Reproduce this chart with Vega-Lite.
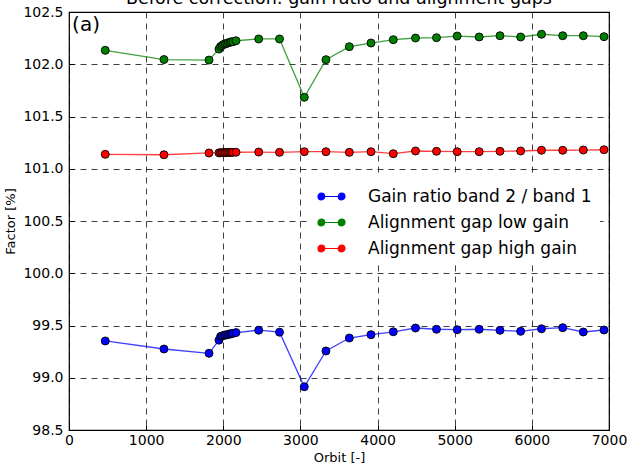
{
  "$schema": "https://vega.github.io/schema/vega-lite/v6.json",
  "width": 540,
  "height": 418,
  "autosize": {"type": "none"},
  "padding": {"left": 69, "top": 12, "right": 21, "bottom": 36},
  "background": "white",
  "title": {"text": "Before correction: gain ratio and alignment gaps", "fontSize": 17.5, "font": "DejaVu Sans", "fontWeight": "normal", "offset": -2, "anchor": "middle", "color": "#000"},
  "config": {
    "font": "DejaVu Sans",
    "view": {"stroke": "#000", "strokeWidth": 1.2},
    "axis": {
      "domain": false,
      "grid": true,
      "gridColor": "#000",
      "gridOpacity": 0.75,
      "gridDash": [6, 5],
      "gridWidth": 1,
      "tickColor": "#000",
      "tickSize": -5,
      "labelColor": "#000",
      "labelFontSize": 14,
      "titleColor": "#000",
      "titleFontSize": 13,
      "titleFontWeight": "normal",
      "labelFont": "DejaVu Sans",
      "titleFont": "DejaVu Sans"
    }
  },
  "data": {"values": [
    {"orbit": 470, "Gain ratio band 2 / band 1": 99.352, "Alignment gap low gain": 102.133, "Alignment gap high gain": 101.138},
    {"orbit": 1231, "Gain ratio band 2 / band 1": 99.275, "Alignment gap low gain": 102.045, "Alignment gap high gain": 101.134},
    {"orbit": 1815, "Gain ratio band 2 / band 1": 99.234, "Alignment gap low gain": 102.04, "Alignment gap high gain": 101.151},
    {"orbit": 1944, "Gain ratio band 2 / band 1": 99.36, "Alignment gap low gain": 102.145, "Alignment gap high gain": 101.152},
    {"orbit": 1965, "Gain ratio band 2 / band 1": 99.395, "Alignment gap low gain": 102.17, "Alignment gap high gain": 101.153},
    {"orbit": 1985, "Gain ratio band 2 / band 1": 99.4, "Alignment gap low gain": 102.18, "Alignment gap high gain": 101.154},
    {"orbit": 2005, "Gain ratio band 2 / band 1": 99.405, "Alignment gap low gain": 102.19, "Alignment gap high gain": 101.154},
    {"orbit": 2025, "Gain ratio band 2 / band 1": 99.41, "Alignment gap low gain": 102.195, "Alignment gap high gain": 101.155},
    {"orbit": 2045, "Gain ratio band 2 / band 1": 99.41, "Alignment gap low gain": 102.2, "Alignment gap high gain": 101.155},
    {"orbit": 2065, "Gain ratio band 2 / band 1": 99.415, "Alignment gap low gain": 102.205, "Alignment gap high gain": 101.156},
    {"orbit": 2085, "Gain ratio band 2 / band 1": 99.42, "Alignment gap low gain": 102.21, "Alignment gap high gain": 101.156},
    {"orbit": 2105, "Gain ratio band 2 / band 1": 99.42, "Alignment gap low gain": 102.215, "Alignment gap high gain": 101.157},
    {"orbit": 2125, "Gain ratio band 2 / band 1": 99.425, "Alignment gap low gain": 102.215, "Alignment gap high gain": 101.157},
    {"orbit": 2165, "Gain ratio band 2 / band 1": 99.432, "Alignment gap low gain": 102.225, "Alignment gap high gain": 101.158},
    {"orbit": 2459, "Gain ratio band 2 / band 1": 99.455, "Alignment gap low gain": 102.242, "Alignment gap high gain": 101.16},
    {"orbit": 2729, "Gain ratio band 2 / band 1": 99.436, "Alignment gap low gain": 102.242, "Alignment gap high gain": 101.157},
    {"orbit": 3050, "Gain ratio band 2 / band 1": 98.914, "Alignment gap low gain": 101.684, "Alignment gap high gain": 101.163},
    {"orbit": 3331, "Gain ratio band 2 / band 1": 99.256, "Alignment gap low gain": 102.044, "Alignment gap high gain": 101.163},
    {"orbit": 3634, "Gain ratio band 2 / band 1": 99.38, "Alignment gap low gain": 102.168, "Alignment gap high gain": 101.157},
    {"orbit": 3915, "Gain ratio band 2 / band 1": 99.412, "Alignment gap low gain": 102.203, "Alignment gap high gain": 101.163},
    {"orbit": 4204, "Gain ratio band 2 / band 1": 99.44, "Alignment gap low gain": 102.235, "Alignment gap high gain": 101.144},
    {"orbit": 4492, "Gain ratio band 2 / band 1": 99.476, "Alignment gap low gain": 102.251, "Alignment gap high gain": 101.17},
    {"orbit": 4764, "Gain ratio band 2 / band 1": 99.464, "Alignment gap low gain": 102.254, "Alignment gap high gain": 101.167},
    {"orbit": 5032, "Gain ratio band 2 / band 1": 99.46, "Alignment gap low gain": 102.27, "Alignment gap high gain": 101.163},
    {"orbit": 5317, "Gain ratio band 2 / band 1": 99.464, "Alignment gap low gain": 102.261, "Alignment gap high gain": 101.163},
    {"orbit": 5587, "Gain ratio band 2 / band 1": 99.454, "Alignment gap low gain": 102.273, "Alignment gap high gain": 101.167},
    {"orbit": 5855, "Gain ratio band 2 / band 1": 99.444, "Alignment gap low gain": 102.261, "Alignment gap high gain": 101.17},
    {"orbit": 6125, "Gain ratio band 2 / band 1": 99.469, "Alignment gap low gain": 102.287, "Alignment gap high gain": 101.177},
    {"orbit": 6400, "Gain ratio band 2 / band 1": 99.479, "Alignment gap low gain": 102.273, "Alignment gap high gain": 101.177},
    {"orbit": 6667, "Gain ratio band 2 / band 1": 99.438, "Alignment gap low gain": 102.273, "Alignment gap high gain": 101.179},
    {"orbit": 6935, "Gain ratio band 2 / band 1": 99.457, "Alignment gap low gain": 102.264, "Alignment gap high gain": 101.182}
  ]},
  "layer": [
    {
      "transform": [{"fold": ["Gain ratio band 2 / band 1", "Alignment gap low gain", "Alignment gap high gain"], "as": ["series", "factor"]}],
      "mark": {"type": "line", "strokeWidth": 1.3, "opacity": 0.75},
      "encoding": {
        "x": {"field": "orbit", "type": "quantitative", "scale": {"domain": [0, 7000], "nice": false, "zero": false}, "axis": {"values": [0, 1000, 2000, 3000, 4000, 5000, 6000, 7000], "format": "d", "title": "Orbit [-]", "labelPadding": 8, "titlePadding": 4, "labelFlush": false}},
        "y": {"field": "factor", "type": "quantitative", "scale": {"domain": [98.5, 102.5], "nice": false, "zero": false}, "axis": {"values": [98.5, 99, 99.5, 100, 100.5, 101, 101.5, 102, 102.5], "format": ".1f", "title": "Factor [%]", "labelPadding": 11, "titlePadding": 5, "labelFlush": false}},
        "color": {"field": "series", "type": "nominal",
          "scale": {"domain": ["Gain ratio band 2 / band 1", "Alignment gap low gain", "Alignment gap high gain"], "range": ["#0000ff", "#008000", "#ff0000"]},
          "legend": {"orient": "none", "legendX": 240, "legendY": 162, "padding": 8, "fillColor": "white", "title": null, "labelFontSize": 17, "labelColor": "#000", "labelFont": "DejaVu Sans", "labelLimit": 400, "symbolSize": 729, "symbolStrokeWidth": 1.2, "symbolOpacity": 1, "rowPadding": 3, "labelOffset": 22,
            "symbolType": "M-0.75,0L0.75,0M-1,0A0.25,0.25 0 1 1 -0.5,0A0.25,0.25 0 1 1 -1,0ZM0.5,0A0.25,0.25 0 1 1 1,0A0.25,0.25 0 1 1 0.5,0Z",
            "encode": {"symbols": {"update": {"fill": {"scale": "color", "field": "value"}, "stroke": {"scale": "color", "field": "value"}, "opacity": {"value": 1}}}}}
        }
      }
    },
    {
      "transform": [{"fold": ["Gain ratio band 2 / band 1", "Alignment gap low gain", "Alignment gap high gain"], "as": ["series", "factor"]}],
      "mark": {"type": "point", "filled": true, "size": 64, "stroke": "#000", "strokeWidth": 0.9, "opacity": 1},
      "encoding": {
        "x": {"field": "orbit", "type": "quantitative"},
        "y": {"field": "factor", "type": "quantitative"},
        "color": {"field": "series", "type": "nominal"}
      }
    },
    {
      "data": {"values": [{"label": "(a)", "orbit": 40, "factor": 102.376}]},
      "mark": {"type": "text", "align": "left", "baseline": "middle", "fontSize": 20, "font": "DejaVu Sans", "color": "#000"},
      "encoding": {
        "x": {"field": "orbit", "type": "quantitative"},
        "y": {"field": "factor", "type": "quantitative"},
        "text": {"field": "label"}
      }
    }
  ]
}
